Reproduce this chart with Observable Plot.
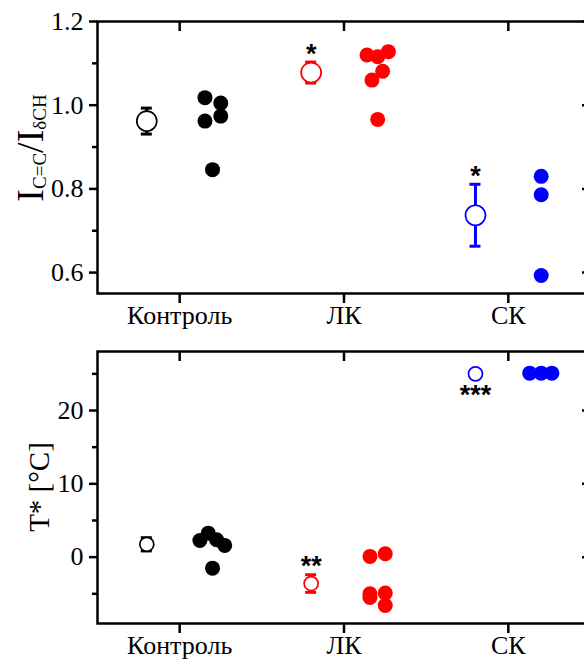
<!DOCTYPE html>
<html><head><meta charset="utf-8">
<script src="https://cdn.jsdelivr.net/npm/d3@7"></script>
<script src="https://cdn.jsdelivr.net/npm/@observablehq/plot@0.6"></script>
<style>
html,body{margin:0;padding:0;background:#fff;overflow:hidden}
#wrap{width:584px;height:664px;overflow:hidden;position:relative;background:#fff}
#wrap svg{display:block;max-width:none;height:auto;font-family:"Liberation Serif",serif;font-size:26px;background:#fff;color:#000}
</style></head><body><div id="wrap"></div>
<script>
const categories = ["Контроль", "ЛК", "СК"];
const colors = ["#000000", "#ff0000", "#0000ff"];

// Panel A: I(C=C)/I(δCH)
const ratioMean = [0.962, 1.078, 0.737];
const ratioErr = [0.031, 0.025, 0.074];
const ratioStars = ["", "*", "*"];
const ratioGroup = [0, 0, 0, 0, 0, 1, 1, 1, 1, 1, 1, 2, 2, 2];
const ratioValue = [1.018, 1.005, 0.962, 0.974, 0.846, 1.120, 1.116, 1.128, 1.081, 1.060, 0.966, 0.830, 0.786, 0.593];
const ratioJitter = [0.154, 0.25, 0.154, 0.25, 0.2, 0.14, 0.205, 0.27, 0.235, 0.17, 0.205, 0.2, 0.2, 0.2];
const ratioTicks = [0.6, 0.8, 1.0, 1.2];
const ratioMinor = [0.7, 0.9, 1.1];

// Panel B: T*
const tMean = [1.75, -3.6, 25.0];
const tErr = [0.9, 1.2, 0];
const tStars = ["", "**", "***"];
const tGroup = [0, 0, 0, 0, 0, 1, 1, 1, 1, 1, 1, 2, 2, 2];
const tValue = [2.28, 3.27, 2.37, 1.6, -1.5, 0.1, 0.46, -5.0, -5.5, -4.9, -6.6, 25.1, 25.1, 25.1];
const tJitter = [0.123, 0.174, 0.225, 0.274, 0.2, 0.158, 0.251, 0.158, 0.158, 0.251, 0.251, 0.13, 0.2, 0.265];
const tTicks = [0, 10, 20];
const tMinor = [-5, 5, 15, 25];

const serif = "Liberation Serif";
const starFont = "Liberation Sans";
const meanShift = -0.2;

function panel(cfg) {
  const means = cfg.mean.map((m, i) => ({cat: categories[i], x: i + meanShift, m, lo: m - cfg.err[i], hi: m + cfg.err[i], star: cfg.stars[i], below: cfg.starBelow[i]}));
  const pts = cfg.value.map((v, i) => ({cat: categories[cfg.group[i]], x: cfg.group[i] + cfg.jitter[i], v}));
  const txt = {fontFamily: serif, fontSize: 26};
  return Plot.plot({
    width: 600, height: cfg.height,
    marginLeft: 97, marginRight: 10, marginTop: 21, marginBottom: cfg.marginBottom,
    x: {domain: [-0.5, 2.5]},
    y: {domain: cfg.domain},
    color: {type: "ordinal", domain: categories, range: colors},
    marks: [
      Plot.axisX([0, 1, 2], {anchor: "bottom", tickSize: 10, tickPadding: 2, strokeWidth: 2.5, label: null, tickFormat: i => categories[i], ...txt}),
      Plot.axisX([0, 1, 2], {anchor: "top", tickSize: 9, insetTop: 9, strokeWidth: 2.5, label: null, tickFormat: () => ""}),
      Plot.axisY(cfg.ticks, {anchor: "left", tickSize: 8, tickPadding: 6, strokeWidth: 2.5, label: null, tickFormat: cfg.fmt, ...txt}),
      Plot.axisY(cfg.minor, {anchor: "left", tickSize: 5, strokeWidth: 2.5, label: null, tickFormat: () => ""}),
      Plot.axisY(cfg.ticks, {anchor: "right", tickSize: 9, insetRight: 9, strokeWidth: 2.5, label: null, tickFormat: () => ""}),
      Plot.frame({strokeWidth: 2.5}),
      Plot.ruleX(means, {x: "x", y1: "lo", y2: "hi", stroke: "cat", strokeWidth: 3}),
      Plot.ruleY(means, {y: "lo", x1: "x", x2: "x", insetLeft: -5.5, insetRight: -5.5, stroke: "cat", strokeWidth: 3}),
      Plot.ruleY(means, {y: "hi", x1: "x", x2: "x", insetLeft: -5.5, insetRight: -5.5, stroke: "cat", strokeWidth: 3}),
      Plot.dot(means, {x: "x", y: "m", r: cfg.meanR, fill: "white", stroke: "cat", strokeWidth: 1.7}),
      Plot.dot(pts, {x: "x", y: "v", r: 7.5, fill: "cat"}),
      Plot.text(means.filter(d => d.star && !d.below), {x: "x", y: "hi", text: "star", dy: -8, fontSize: 27, fontWeight: "bold", fontFamily: starFont, fill: "black"}),
      Plot.text(means.filter(d => d.star && d.below), {x: "x", y: "lo", text: "star", dy: 21, fontSize: 27, fontWeight: "bold", fontFamily: starFont, fill: "black"})
    ]
  });
}

const wrap = document.getElementById("wrap");

const topSvg = panel({mean: ratioMean, err: ratioErr, stars: ratioStars, starBelow: [false, false, false], group: ratioGroup, value: ratioValue, jitter: ratioJitter,
  ticks: ratioTicks, minor: ratioMinor, domain: [0.55, 1.2], height: 330, marginBottom: 37, meanR: 10, fmt: d3.format(".1f")});
wrap.appendChild(topSvg);

const bottomSvg = panel({mean: tMean, err: tErr, stars: tStars, starBelow: [false, false, true], group: tGroup, value: tValue, jitter: tJitter,
  ticks: tTicks, minor: tMinor, domain: [-9.05, 28.05], height: 334, marginBottom: 41, meanR: 7, fmt: d => String(d)});
wrap.appendChild(bottomSvg);

// y-axis titles
const la = d3.select(topSvg).append("text")
  .attr("transform", "translate(43,148) rotate(-90)")
  .attr("text-anchor", "middle")
  .attr("fill", "black")
  .attr("font-family", serif).attr("font-size", 38);
la.append("tspan").text("I");
la.append("tspan").attr("dy", 3).attr("font-size", 19).text("C=C");
la.append("tspan").attr("dy", -3).text("/I");
la.append("tspan").attr("dy", 3).attr("font-size", 19).text("δCH");

d3.select(bottomSvg).append("text")
  .attr("transform", "translate(49,157) rotate(-90)")
  .attr("text-anchor", "middle")
  .attr("fill", "black")
  .attr("font-family", serif).attr("font-size", 29)
  .text("T* [°C]");
</script>
</body></html>
